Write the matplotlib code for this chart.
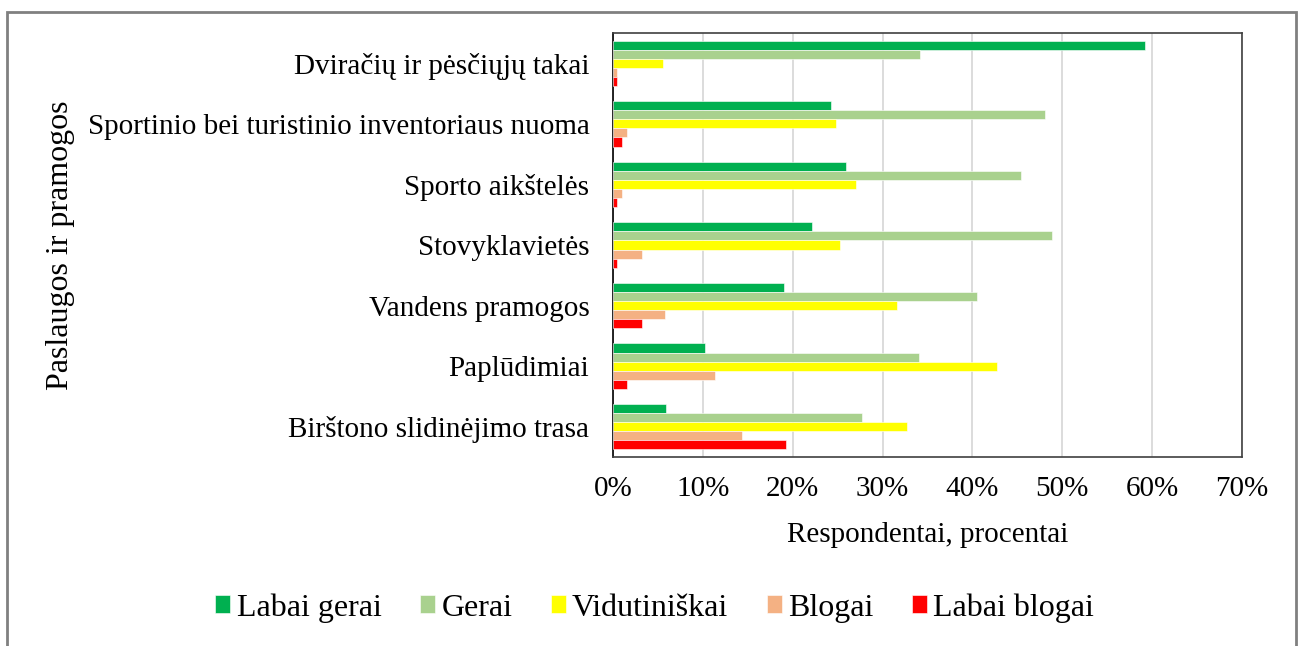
import numpy as np
import matplotlib
matplotlib.use('Agg')
import matplotlib.pyplot as plt
from matplotlib.patches import Rectangle
from matplotlib.ticker import FuncFormatter

# Paslaugos (is virsaus i apacia)
kategorijos = ['Dviračių ir pėsčiųjų takai',
               'Sportinio bei turistinio inventoriaus nuoma',
               'Sporto aikštelės',
               'Stovyklavietės',
               'Vandens pramogos',
               'Paplūdimiai',
               'Birštono slidinėjimo trasa']

# Vertinimai, procentais
labai_gerai = [59.2, 24.3, 25.9, 22.2, 19.0, 10.2, 5.9]
gerai = [34.2, 48.1, 45.4, 48.9, 40.5, 34.1, 27.7]
vidutiniskai = [5.6, 24.8, 27.0, 25.3, 31.6, 42.7, 32.7]
blogai = [0.5, 1.6, 1.0, 3.2, 5.8, 11.3, 14.4]
labai_blogai = [0.5, 1.0, 0.5, 0.5, 3.2, 1.6, 19.3]

serijos = ['Labai gerai', 'Gerai', 'Vidutiniškai', 'Blogai', 'Labai blogai']
spalvos = ['#00B050', '#A9D18E', '#FFFF00', '#F4B183', '#FF0000']
x_ticks = [0, 10, 20, 30, 40, 50, 60, 70]

plt.rcParams['font.family'] = ['Liberation Serif', 'DejaVu Serif']

fig = plt.figure(figsize=(12.99, 6.46), dpi=100)
ax = fig.add_axes([613 / 1299, 1 - 457 / 646, 629 / 1299, 424 / 646])

y = np.arange(len(kategorijos))
h = 0.15
reiksmes = [labai_gerai, gerai, vidutiniskai, blogai, labai_blogai]
for j, (vardas, duom, sp) in enumerate(zip(serijos, reiksmes, spalvos)):
    ax.barh(y + (j - 2) * h, duom, height=h, color=sp, label=vardas,
            edgecolor='white', linewidth=0.4, zorder=3)

ax.set_ylim(len(kategorijos) - 0.5, -0.5)
ax.set_xlim(0, 70)
ax.set_xticks(x_ticks)
ax.xaxis.set_major_formatter(FuncFormatter(lambda v, p: '{:.0f}%'.format(v)))
ax.set_yticks(y)
ax.set_yticklabels(kategorijos)
ax.tick_params(axis='x', length=0, pad=14, labelsize=21)
ax.tick_params(axis='y', length=0, pad=17, labelsize=21)
ax.grid(axis='x', color='#D9D9D9', linewidth=1.3, zorder=0)

for s in ['top', 'right', 'bottom']:
    ax.spines[s].set_color('#404040')
    ax.spines[s].set_linewidth(1.2)
ax.spines['left'].set_color('black')
ax.spines['left'].set_linewidth(1.2)

ax.set_xlabel('Respondentai, procentai', fontsize=21, va='center')
ax.xaxis.set_label_coords(0.5, -0.183)
ax.set_ylabel('Paslaugos ir pramogos', fontsize=23, va='center')
ax.yaxis.set_label_coords(-0.879, 0.5)

fig.legend(loc='center', bbox_to_anchor=(0.504, 0.059), ncol=5, frameon=False,
           fontsize=23, handlelength=0.47, handleheight=0.47,
           handletextpad=0.2, columnspacing=1.2)

# Pilkas remelis aplink visa diagrama
fig.add_artist(Rectangle((7 / 1299, -0.05), 1289 / 1299, 1.05 - 12 / 646,
                         transform=fig.transFigure, fill=False,
                         edgecolor='#808080', linewidth=2))

fig.savefig('out.png', dpi=100)
